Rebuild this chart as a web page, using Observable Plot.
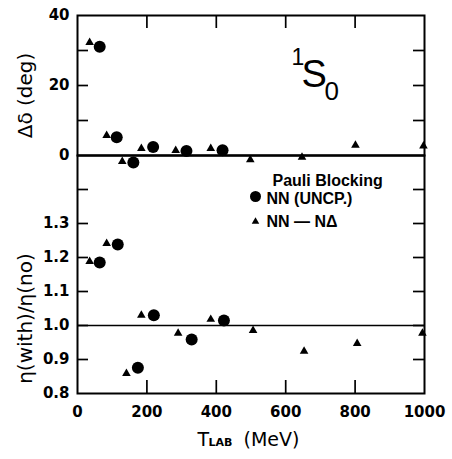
<!DOCTYPE html>
<html><head><meta charset="utf-8">
<script src="https://cdn.jsdelivr.net/npm/d3@7"></script>
<script src="https://cdn.jsdelivr.net/npm/@observablehq/plot@0.6"></script>
<style>
html,body{margin:0;padding:0;background:#fff;}
#chart{position:relative;width:452px;height:459px;overflow:hidden;}
#chart svg{position:absolute;left:0;overflow:visible;}
</style></head><body><div id="chart"></div>
<script>
// ---- axes / ticks ----
const xDomain = [0, 1000];
const xTickLabels = [0, 200, 400, 600, 800, 1000];
const xMinorTicks = [200, 400, 600, 800];
const topYDomain = [0, 40];
const topYTickLabels = [0, 20, 40];
const topYTicks = [10, 20, 30];
const topRefLine = [0];
const botYDomain = [0.8, 1.5];
const botYTickLabels = [0.8, 0.9, 1.0, 1.1, 1.2, 1.3];
const botYTicks = [0.9, 1.0, 1.1, 1.2, 1.3, 1.4];
const botRefLine = [1.0];

// ---- data: phase-shift change (deg) ----
const dPhaseTriT = [35, 84, 129, 184, 283, 384, 498, 647, 801, 997];
const dPhaseTri  = [32.3, 5.7, -1.7, 2.0, 1.4, 2.0, -1.2, -0.5, 2.9, 2.7];
const dPhaseCirT = [64, 113, 161, 218, 314, 418];
const dPhaseCir  = [31.1, 5.2, -2.0, 2.4, 1.3, 1.5];

// ---- data: eta(with)/eta(no) ----
const etaTriT = [35, 84, 141, 184, 290, 384, 506, 653, 806, 994];
const etaTri  = [1.188, 1.241, 0.859, 1.030, 0.977, 1.018, 0.985, 0.924, 0.947, 0.977];
const etaCirT = [64, 116, 174, 220, 329, 422];
const etaCir  = [1.185, 1.238, 0.876, 1.030, 0.959, 1.015];

// ---- texts ----
const legendTitle = "Pauli Blocking";
const legendLabels = ["NN (UNCP.)", "NN — NΔ"];
const legendSymbols = ["circle", "triangle"];
const topTitle = "Δδ (deg)";
const botTitle = "η(with)/η(no)";
const xTitleMain = "T", xTitleSub = "LAB", xTitleUnit = "(MeV)";
const waveMain = "S", waveSup = "1", waveSub = "0";

const zip = (xs, ys) => xs.map((x, i) => ({x, y: ys[i]}));
const W = 452, ML = 77, MR = 28;
const frameW = W - ML - MR;
const tickLenY = 11, tickLenX = 13;
const TICKFONT = {fontSize: 15, fontWeight: "bold", fontFamily: "DejaVu Sans"};
const mkStyle = () => ({background: "transparent", fontFamily: "DejaVu Sans", fontSize: "15px", color: "#000", overflow: "visible"});

const topH = 200, topMT = 15, topMB = 45;
const topFrameH = topH - topMT - topMB;
const botTop = topMT + topFrameH; // 155
const botH = 459 - botTop, botMT = 0, botMB = 66;
const botFrameH = botH - botMT - botMB;

// ---------- frame + inward ticks overlays ----------
const frameLayer = (h, mt, mb, yDomain, yTicks, xTickOpts) => Plot.plot({
  width: W, height: h, marginTop: mt, marginBottom: mb, marginLeft: ML, marginRight: MR,
  x: {domain: xDomain, axis: null},
  y: {domain: yDomain, axis: null},
  style: mkStyle(),
  marks: [
    Plot.frame({stroke: "#000", strokeWidth: 2}),
    Plot.tickY(yTicks, {y: d => d, insetRight: frameW - tickLenY, strokeWidth: 1.7}),
    Plot.tickY(yTicks, {y: d => d, insetLeft: frameW - tickLenY, strokeWidth: 1.7}),
    Plot.tickX(xMinorTicks, {x: d => d, strokeWidth: 1.7, ...xTickOpts})
  ]
});
const topFrame = frameLayer(topH, topMT, topMB, topYDomain, topYTicks, {insetBottom: topFrameH - tickLenX});
const botFrame = frameLayer(botH, botMT, botMB, botYDomain, botYTicks, {insetTop: botFrameH - tickLenX});

// ---------- top panel data ----------
const topPlot = Plot.plot({
  width: W, height: topH, marginTop: topMT, marginBottom: topMB, marginLeft: ML, marginRight: MR,
  x: {domain: xDomain, axis: null},
  y: {domain: topYDomain},
  style: mkStyle(),
  marks: [
    Plot.ruleY(topRefLine, {y: d => d, stroke: "#000", strokeWidth: 1.7}),
    Plot.axisY(topYTickLabels, {anchor: "left", tickSize: 0, tickPadding: 8, label: null, ...TICKFONT}),
    Plot.dot(zip(dPhaseTriT, dPhaseTri), {x: "x", y: "y", symbol: "triangle", r: 3.2, fill: "#000"}),
    Plot.dot(zip(dPhaseCirT, dPhaseCir), {x: "x", y: "y", r: 6, fill: "#000"}),
    Plot.text([topTitle], {text: d => d, frameAnchor: "left", dx: -52, dy: 10, rotate: -90,
      textAnchor: "middle", lineAnchor: "middle", fontSize: 20, fontFamily: "DejaVu Sans"}),
    Plot.text([waveSup], {text: d => d, frameAnchor: "top-left", dx: 214, dy: 42.6,
      textAnchor: "start", lineAnchor: "middle", fontSize: 23, fontFamily: "Liberation Sans"}),
    Plot.text([waveMain], {text: d => d, frameAnchor: "top-left", dx: 224, dy: 59.8,
      textAnchor: "start", lineAnchor: "middle", fontSize: 38, fontFamily: "Liberation Sans"}),
    Plot.text([waveSub], {text: d => d, frameAnchor: "top-left", dx: 247, dy: 75.7,
      textAnchor: "start", lineAnchor: "middle", fontSize: 26, fontFamily: "Liberation Sans"})
  ]
});

// ---------- bottom panel data ----------
const LEG = {fontSize: 16, fontWeight: "bold", fontFamily: "Liberation Sans", textAnchor: "start", lineAnchor: "middle"};
const botPlot = Plot.plot({
  width: W, height: botH, marginTop: botMT, marginBottom: botMB, marginLeft: ML, marginRight: MR,
  x: {domain: xDomain},
  y: {domain: botYDomain},
  style: mkStyle(),
  marks: [
    Plot.ruleY(botRefLine, {y: d => d, stroke: "#000", strokeWidth: 1.7}),
    Plot.axisY(botYTickLabels, {anchor: "left", tickSize: 0, tickPadding: 8, label: null,
      tickFormat: d3.format(".1f"), ...TICKFONT}),
    Plot.axisX(xTickLabels, {anchor: "bottom", tickSize: 0, tickPadding: 13, label: null,
      tickFormat: d => String(d), ...TICKFONT}),
    Plot.dot(zip(etaTriT, etaTri), {x: "x", y: "y", symbol: "triangle", r: 3.2, fill: "#000"}),
    Plot.dot(zip(etaCirT, etaCir), {x: "x", y: "y", r: 6, fill: "#000"}),
    // legend
    Plot.text([legendTitle], {text: d => d, frameAnchor: "top-left", dx: 195, dy: 25, ...LEG}),
    Plot.dot([legendSymbols[0]], {frameAnchor: "top-left", dx: 178, dy: 41, symbol: legendSymbols[0], r: 5.5, fill: "#000"}),
    Plot.text([legendLabels[0]], {text: d => d, frameAnchor: "top-left", dx: 189, dy: 43, ...LEG}),
    Plot.dot([legendSymbols[1]], {frameAnchor: "top-left", dx: 178, dy: 66, symbol: legendSymbols[1], r: 2.8, fill: "#000"}),
    Plot.text([legendLabels[1]], {text: d => d, frameAnchor: "top-left", dx: 189, dy: 66.6, ...LEG}),
    // y title
    Plot.text([botTitle], {text: d => d, frameAnchor: "left", dx: -52, dy: 44, rotate: -90,
      textAnchor: "middle", lineAnchor: "middle", fontSize: 20, fontFamily: "DejaVu Sans"}),
    // x title
    Plot.text([xTitleMain], {text: d => d, frameAnchor: "bottom-left", dx: 120, dy: 46,
      textAnchor: "start", lineAnchor: "middle", fontSize: 19, fontFamily: "DejaVu Sans"}),
    Plot.text([xTitleSub], {text: d => d, frameAnchor: "bottom-left", dx: 131, dy: 48.5,
      textAnchor: "start", lineAnchor: "middle", fontSize: 11, fontWeight: "bold", fontFamily: "DejaVu Sans"}),
    Plot.text([xTitleUnit], {text: d => d, frameAnchor: "bottom-left", dx: 166, dy: 46,
      textAnchor: "start", lineAnchor: "middle", fontSize: 19, fontFamily: "DejaVu Sans"})
  ]
});

const chart = document.getElementById("chart");
botPlot.style.top = botTop + "px";
botFrame.style.top = botTop + "px";
topPlot.style.top = "0px";
topFrame.style.top = "0px";
chart.appendChild(botPlot);
chart.appendChild(topPlot);
chart.appendChild(botFrame);
chart.appendChild(topFrame);
</script>
</body></html>
